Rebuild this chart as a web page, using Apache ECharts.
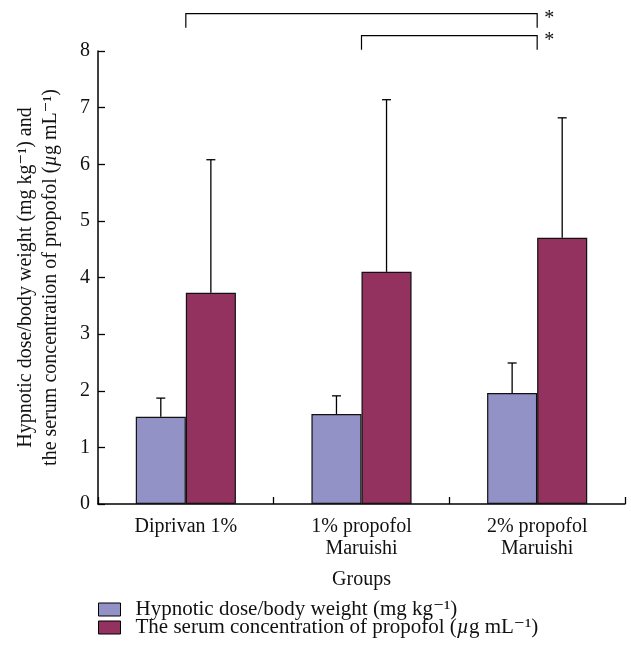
<!DOCTYPE html>
<html><head><meta charset="utf-8">
<script src="https://cdn.jsdelivr.net/npm/echarts@6/dist/echarts.min.js"></script>
<style>html,body{margin:0;padding:0;background:#fff}#c{width:631px;height:654px}</style>
</head><body><div id="c"></div>
<script>
const categories = ['Diprivan 1%', '1% propofol\nMaruishi', '2% propofol\nMaruishi'];
const seriesNames = ['Hypnotic dose/body weight (mg kg⁻¹)', 'The serum concentration of propofol (µg mL⁻¹)'];
const doseMean = [1.54, 1.59, 1.96];
const doseUpper = [1.87, 1.91, 2.49];
const serumMean = [3.73, 4.10, 4.70];
const serumUpper = [6.08, 7.14, 6.82];
const yTicks = [0, 1, 2, 3, 4, 5, 6, 7, 8];
// significance brackets: [fromCategory, toCategory, topLevel, bottomLevel, label]
const brackets = [[0, 2, 8.66, 8.41, '*'], [1, 2, 8.27, 8.02, '*']];

const FONT = '"Liberation Serif", "DejaVu Serif", serif';
const FS = 20;
const LFS = 21;
const colors = ['#9292c6', '#93315f'];
const catGap = 0.43;
const barFrac = 1 - catGap;

function errRender(sign) {
  return function (params, api) {
    const i = api.value(0);
    const base = api.coord([i, api.value(1)]);
    const top = api.coord([i, api.value(2)]);
    const bw = api.size([1, 0])[0] * barFrac / 2;
    const cx = base[0] + sign * bw / 2;
    const cap = 4.5;
    return {
      type: 'group',
      children: [
        { type: 'line', shape: { x1: cx, y1: base[1], x2: cx, y2: top[1] }, style: { stroke: '#000', lineWidth: 1.3 } },
        { type: 'line', shape: { x1: cx - cap, y1: top[1], x2: cx + cap, y2: top[1] }, style: { stroke: '#000', lineWidth: 1.3 } }
      ]
    };
  };
}

const chart = echarts.init(document.getElementById('c'));
chart.setOption({
  animation: false,
  textStyle: { fontFamily: FONT },
  grid: { left: 98, right: 6, top: 51, bottom: 150, containLabel: false },
  legend: {
    orient: 'vertical', left: 93, top: 594, itemWidth: 22, itemHeight: 13, itemGap: -3,
    icon: 'rect',
    data: seriesNames,
    textStyle: { fontFamily: FONT, fontSize: LFS, color: '#111', lineHeight: 18, padding: [0, 0, 0, 10],
      rich: { i: { fontStyle: 'italic', fontFamily: FONT, fontSize: LFS, color: '#111', lineHeight: 18 } } },
    formatter: function (n) { return n.replace('µ', '{i|µ}'); },
    itemStyle: { borderColor: '#000', borderWidth: 1 }
  },
  xAxis: {
    type: 'category', data: categories,
    name: 'Groups', nameLocation: 'middle', nameGap: 66,
    nameTextStyle: { fontFamily: FONT, fontSize: FS, color: '#111' },
    axisLine: { lineStyle: { color: '#000', width: 1.5 } },
    axisTick: { show: true, alignWithLabel: false, inside: true, length: 7, lineStyle: { color: '#000', width: 1.3 } },
    axisLabel: { fontFamily: FONT, fontSize: FS, color: '#111', margin: 12, lineHeight: 22 }
  },
  yAxis: {
    type: 'value', min: 0, max: 8, interval: 1,
    name: '{a|Hypnotic dose/body weight (mg kg⁻¹) and}\n{a|the serum concentration of propofol (}{i|µ}{a|g mL⁻¹)}',
    nameLocation: 'middle', nameGap: 35, nameRotate: 90,
    nameTextStyle: { lineHeight: 25, rich: { a: { fontFamily: FONT, fontSize: FS, color: '#111', lineHeight: 25 }, i: { fontFamily: FONT, fontSize: FS, fontStyle: 'italic', color: '#111', lineHeight: 25 } } },
    axisLine: { show: true, lineStyle: { color: '#000', width: 1.5 } },
    axisTick: { show: true, inside: true, length: 7, lineStyle: { color: '#000', width: 1.3 } },
    splitLine: { show: false },
    axisLabel: { fontFamily: FONT, fontSize: FS, color: '#111', margin: 8, formatter: function (v) { return yTicks.indexOf(v) >= 0 ? String(v) : ''; } }
  },
  series: [
    { name: seriesNames[0], type: 'bar', data: doseMean, barGap: '0%', barCategoryGap: (catGap * 100) + '%', itemStyle: { color: colors[0], borderColor: '#111', borderWidth: 1.2 } },
    { name: seriesNames[1], type: 'bar', data: serumMean, barGap: '0%', barCategoryGap: (catGap * 100) + '%', itemStyle: { color: colors[1], borderColor: '#111', borderWidth: 1.2 } },
    { type: 'custom', renderItem: errRender(-1), data: doseMean.map((v, i) => [i, v, doseUpper[i]]), z: 5, silent: true },
    { type: 'custom', renderItem: errRender(1), data: serumMean.map((v, i) => [i, v, serumUpper[i]]), z: 5, silent: true },
    {
      type: 'custom', clip: false, silent: true, z: 5,
      data: brackets,
      renderItem: function (params, api) {
        const a = api.coord([api.value(0), api.value(2)]);
        const b = api.coord([api.value(1), api.value(2)]);
        const a2 = api.coord([api.value(0), api.value(3)]);
        const lbl = brackets[params.dataIndex][4];
        return {
          type: 'group',
          children: [
            { type: 'polyline', shape: { points: [[a[0], a2[1]], [a[0], a[1]], [b[0], b[1]], [b[0], a2[1]]] }, style: { stroke: '#000', lineWidth: 1.2, fill: null } },
            { type: 'text', x: b[0] + 7, y: a[1] - 5, style: { text: lbl, fontFamily: FONT, fontSize: 20, fill: '#111', align: 'left', verticalAlign: 'top' } }
          ]
        };
      }
    }
  ]
});
</script></body></html>
